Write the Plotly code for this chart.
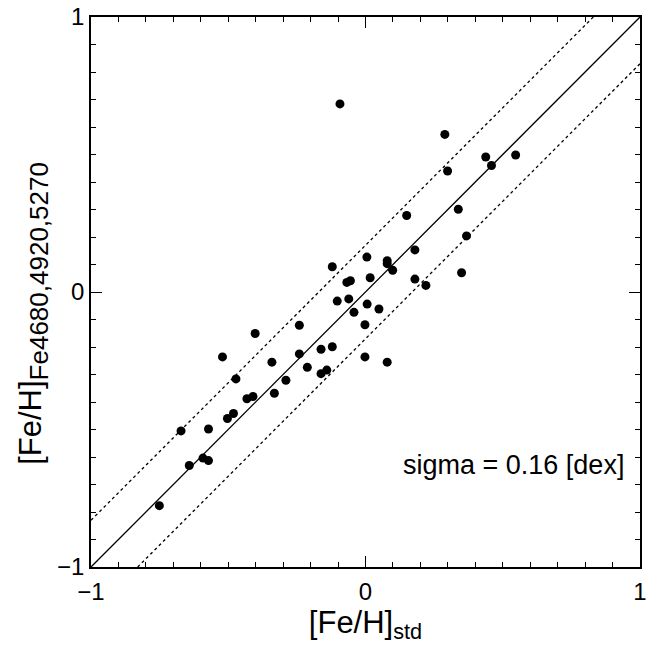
import numpy as np
import plotly.graph_objects as go

# [Fe/H] from the standard scale vs. from Fe4680, Fe4920 and Fe5270 indices
feh_std = [
    -0.093, -0.121, 0.005, 0.017, -0.068, -0.055, 0.289, 0.438, 0.547, 0.459,
    0.299, 0.338, 0.150, 0.368, 0.180, 0.079, 0.079, 0.099, 0.180, 0.220,
    0.350, 0.006, 0.049, -0.002, -0.002, 0.079, -0.103, -0.061, -0.042, -0.241,
    -0.402, -0.521, -0.341, -0.241, -0.162, -0.121, -0.212, -0.162, -0.141, -0.472,
    -0.290, -0.332, -0.432, -0.410, -0.503, -0.481, -0.672, -0.572, -0.592, -0.572,
    -0.642, -0.751,
]
feh_index = [
    0.684, 0.092, 0.127, 0.052, 0.035, 0.041, 0.573, 0.491, 0.498, 0.460,
    0.440, 0.301, 0.278, 0.204, 0.153, 0.114, 0.103, 0.079, 0.047, 0.024,
    0.070, -0.044, -0.062, -0.119, -0.236, -0.255, -0.033, -0.025, -0.074, -0.121,
    -0.151, -0.236, -0.255, -0.225, -0.208, -0.199, -0.274, -0.297, -0.284, -0.316,
    -0.321, -0.368, -0.388, -0.380, -0.460, -0.442, -0.505, -0.498, -0.604, -0.613,
    -0.631, -0.777,
]
one_to_one = [-1.0, 1.0]
band_offset = 0.17
sigma_label = "sigma = 0.16 [dex]"

font_family = "Liberation Sans, Arial, Helvetica, sans-serif"

fig = go.Figure()

line_x = np.array(one_to_one)
fig.add_trace(go.Scatter(x=line_x, y=line_x, mode="lines",
                         line=dict(color="black", width=1.3), showlegend=False))
for sign in (1, -1):
    fig.add_trace(go.Scatter(x=line_x, y=line_x + sign * band_offset, mode="lines",
                             line=dict(color="black", width=1.3, dash="3px,3px"),
                             showlegend=False))

fig.add_trace(go.Scatter(x=feh_std, y=feh_index, mode="markers",
                         marker=dict(color="black", size=9), showlegend=False))

# empty trace so the mirrored top/right axes get drawn
fig.add_trace(go.Scatter(x=[None], y=[None], xaxis="x2", yaxis="y2",
                         showlegend=False, hoverinfo="skip"))

fig.add_annotation(x=0.95, y=-0.63, xref="x", yref="y", text=sigma_label,
                   showarrow=False, xanchor="right", yanchor="middle",
                   font=dict(size=27, color="black", family=font_family))

# y title as an annotation: it sits a little below the axis centre in the original
fig.add_annotation(x=-0.104, y=0.462, xref="paper", yref="paper",
                   text="[Fe/H]<sub><span style=\"font-size:26px\">"
                        "Fe4680,4920,5270</span></sub>",
                   textangle=-90, showarrow=False, xanchor="center", yanchor="middle",
                   font=dict(size=31, color="black", family=font_family))

tick_style = dict(
    range=[-1, 1],
    tickvals=[-1, 0, 1],
    ticktext=["\u22121", "0", "1"],
    ticks="inside",
    ticklen=11,
    tickwidth=1.3,
    tickcolor="black",
    showline=True,
    linecolor="black",
    linewidth=1.6,
    showgrid=False,
    zeroline=False,
    automargin=False,
    ticklabeloverflow="allow",
    tickfont=dict(size=24, color="black", family=font_family),
    minor=dict(ticks="inside", dtick=0.1, ticklen=5, tickwidth=1.1,
               tickcolor="black", showgrid=False),
)

fig.update_layout(
    xaxis=dict(**tick_style, ticklabelstandoff=2,
               title=dict(text="[Fe/H]<sub>std</sub>", standoff=6,
                          font=dict(size=31, color="black", family=font_family))),
    yaxis=dict(**tick_style, ticklabelstandoff=0),
    xaxis2=dict(**tick_style, overlaying="x", side="top", showticklabels=False),
    yaxis2=dict(**tick_style, overlaying="y", side="right", showticklabels=False),
    width=659,
    height=647,
    autosize=False,
    plot_bgcolor="white",
    paper_bgcolor="white",
    margin=dict(l=91, r=19, t=17, b=80),
    font=dict(family=font_family, color="black"),
)

# drop the browser's default body margin so the figure fills the window
fig.write_html("out.html", config={"displayModeBar": False},
               post_script="document.body.style.margin = '0';")
